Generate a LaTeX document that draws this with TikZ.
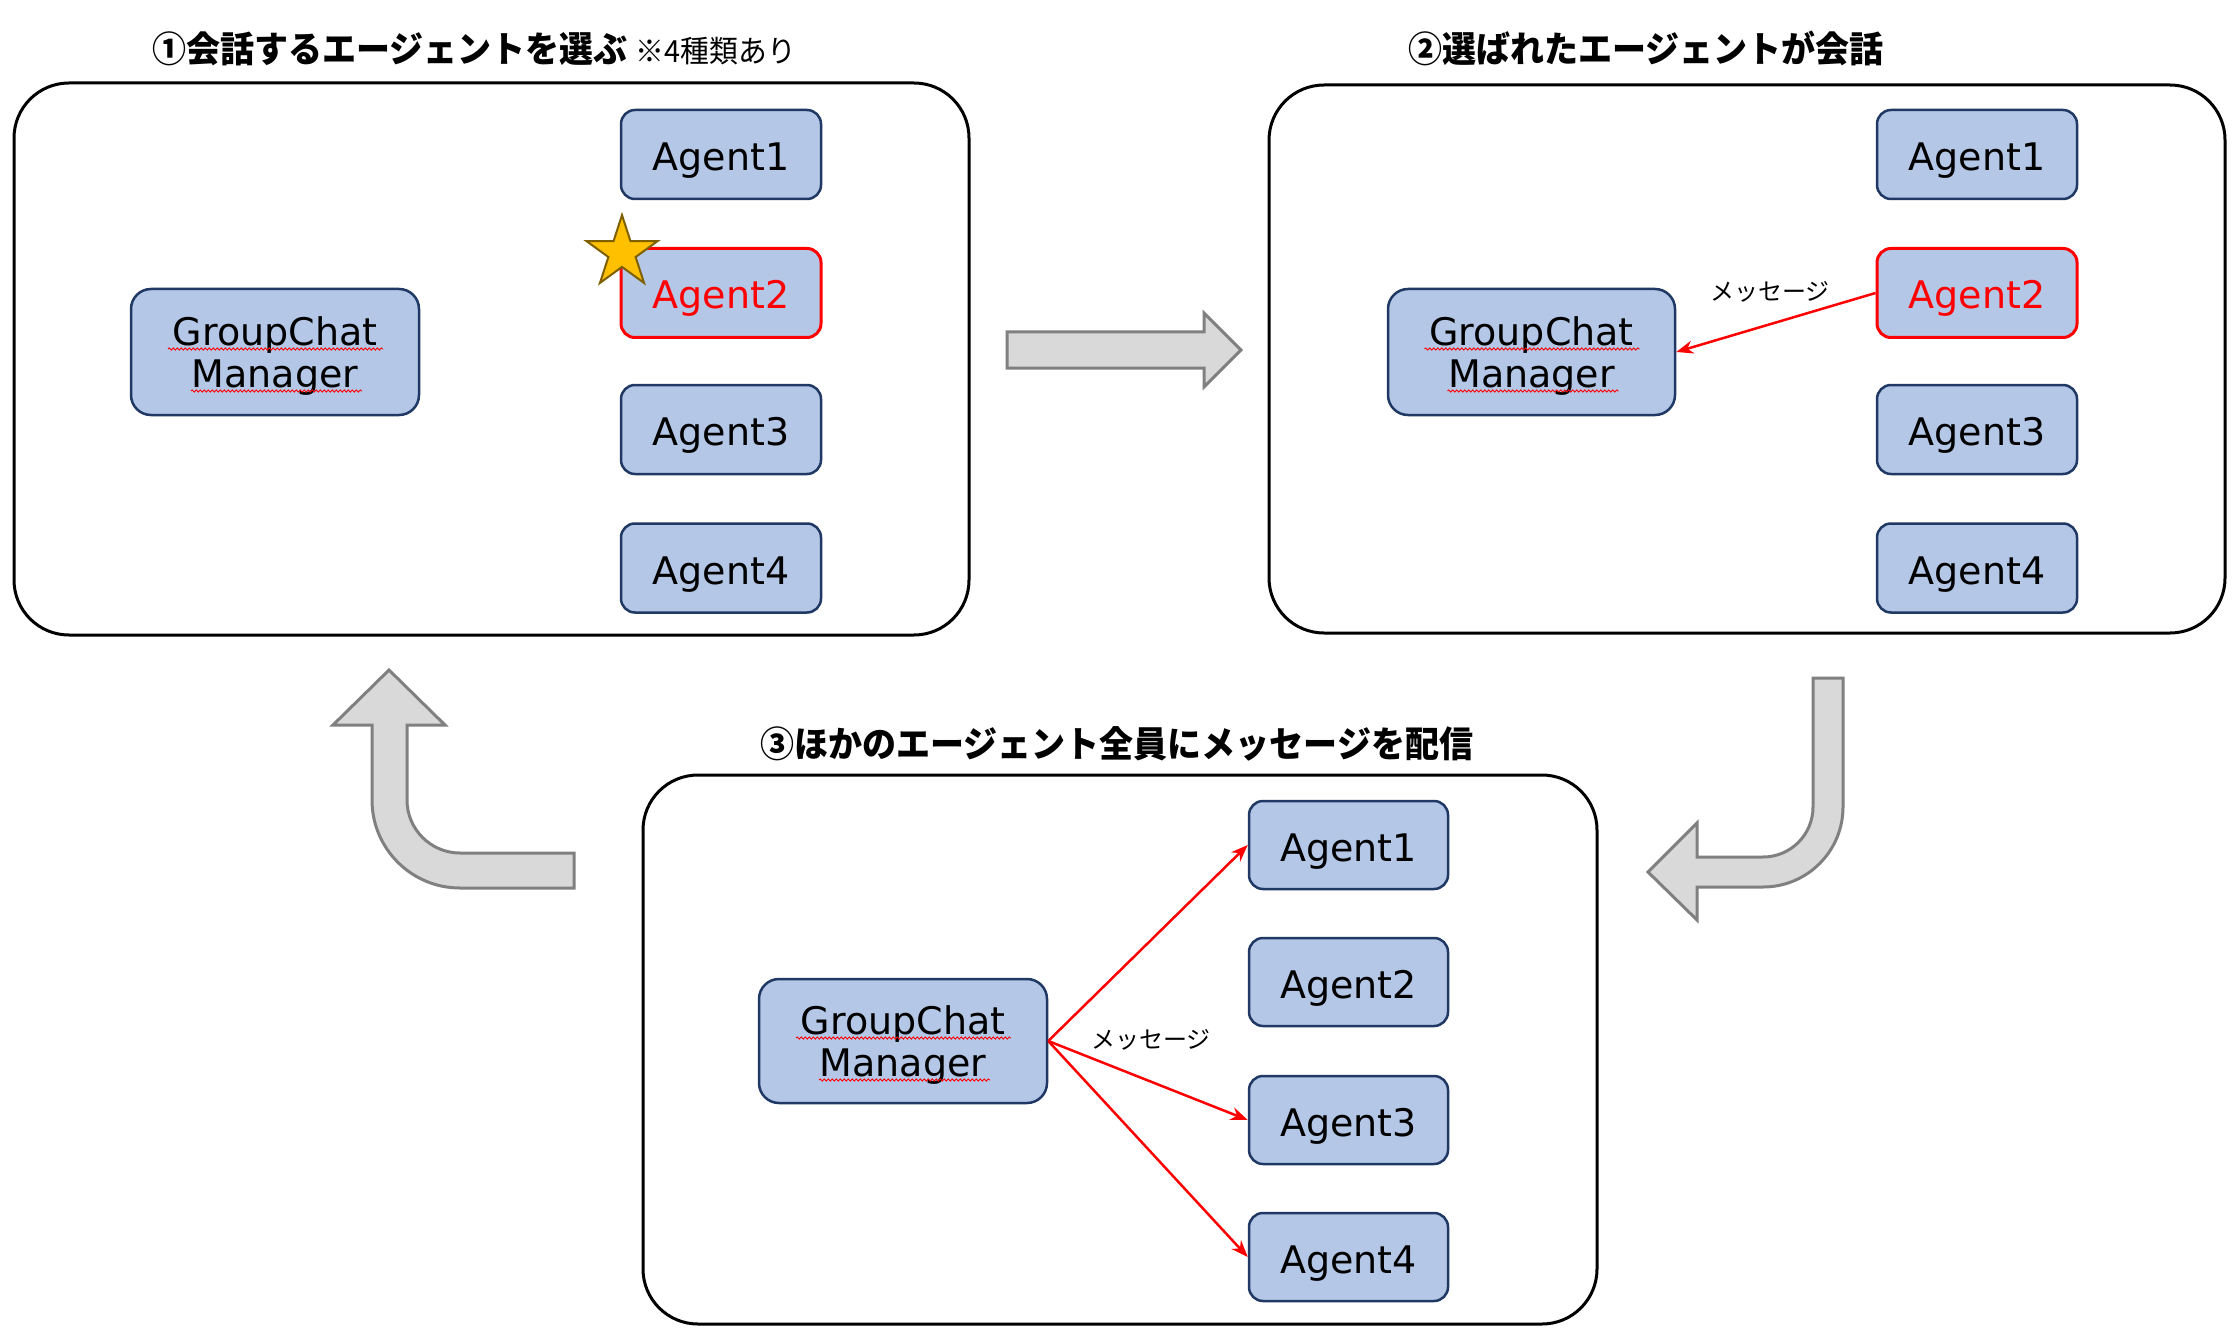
\documentclass[tikz,border=0pt]{standalone}
\usepackage{fontspec}
\setmainfont{DejaVu Sans}
\newfontfamily\jp{Noto Sans CJK JP}
\newfontfamily\jpt{Noto Sans CJK JP}[FakeStretch=0.945]
\usetikzlibrary{arrows.meta,shapes.geometric,decorations.pathmorphing,calc}
\definecolor{boxfill}{HTML}{B4C7E7}
\definecolor{boxline}{HTML}{1F3864}
\definecolor{arrfill}{HTML}{D9D9D9}
\definecolor{arrline}{HTML}{808080}
\definecolor{starfill}{HTML}{FFC000}
\definecolor{starline}{HTML}{7F6000}
\tikzset{
  panel/.style={draw=black, line width=3pt, rounded corners=55pt, fill=white},
  agentbox/.style={draw=boxline, fill=boxfill, line width=2.5pt, rounded corners=14pt,
    minimum width=200pt, minimum height=89pt, inner sep=0pt,
    text height=40pt, text depth=8pt,
    font=\fontsize{38}{41}\selectfont},
  selbox/.style={agentbox, draw=red, line width=3pt, text=red},
  gcmbox/.style={draw=boxline, fill=boxfill, line width=2.5pt, rounded corners=20pt,
    minimum width=288pt, minimum height=126pt, inner sep=0pt, align=center,
    font=\fontsize{38}{42}\selectfont},
  titletext/.style={font=\jpt\bfseries\fontsize{36}{40}\selectfont, inner sep=0pt, anchor=base west},
  msgtext/.style={font=\jp\fontsize{24}{26}\selectfont, inner sep=0pt},
  msgarrow/.style={draw=red, line width=2.5pt, -{Stealth[length=17pt,width=13pt]}},
  blockarrow/.style={fill=arrfill, draw=arrline, line width=3pt, line join=miter},
  squig/.style={draw=red, line width=0.9pt, decorate, decoration={snake, amplitude=1.1pt, segment length=4pt}},
}
\newcommand{\gcmtext}{\raisebox{-6pt}[\height][\depth]{\begin{tabular}{@{}c@{}}GroupChat\\Manager\end{tabular}}}
\newcommand{\gcmsquig}[1]{%
  \path[squig] ($(#1)+(-107,-3)$) -- ($(#1)+(108,-3)$);
  \path[squig] ($(#1)+(-84,39)$) -- ($(#1)+(87,39)$);
}
\begin{document}
\begin{tikzpicture}[x=1pt,y=-1pt]
\useasboundingbox (0,0) rectangle (2234,1329);

% titles
\node[titletext] (t1) at (152,63) {①会話するエージェントを選ぶ\hspace{8pt}{\mdseries\fontsize{30.5}{32}\selectfont ※4種類あり}};
\node[titletext] (t2) at (1408,63) {②選ばれたエージェントが会話};
\node[titletext] (t3) at (760,757) {③ほかのエージェント全員にメッセージを配信};

% panels
\node[panel, minimum width=955pt, minimum height=552pt] (p1) at (491.5,359) {};
\node[panel, minimum width=956pt, minimum height=548pt] (p2) at (1747,359) {};
\node[panel, minimum width=954pt, minimum height=549pt] (p3) at (1120,1049.5) {};

% panel 1
\node[gcmbox] (g1) at (275,352) {\gcmtext};
\node[agentbox] (a11) at (721,154.5) {Agent1};
\node[selbox]   (a12) at (721,293) {Agent2};
\node[agentbox] (a13) at (721,429.5) {Agent3};
\node[agentbox] (a14) at (721,568) {Agent4};
\node[star, star points=5, star point ratio=2.618, minimum size=75pt, inner sep=0pt,
      fill=starfill, draw=starline, line width=2pt] (star) at (622,252.6) {};

% panel 2
\node[gcmbox, minimum width=287pt] (g2) at (1531.5,352) {\gcmtext};
\node[agentbox] (a21) at (1977,154.5) {Agent1};
\node[selbox]   (a22) at (1977,293) {Agent2};
\node[agentbox] (a23) at (1977,429.5) {Agent3};
\node[agentbox] (a24) at (1977,568) {Agent4};
\draw[msgarrow] (a22.west) -- (g2.east);
\node[msgtext] (m2) at (1770,292) {メッセージ};

% panel 3
\node[gcmbox, minimum height=124pt] (g3) at (903,1041) {\gcmtext};
\node[agentbox, minimum width=199pt, minimum height=88pt] (a31) at (1348.5,845) {Agent1};
\node[agentbox, minimum width=199pt, minimum height=88pt] (a32) at (1348.5,982) {Agent2};
\node[agentbox, minimum width=199pt, minimum height=88pt] (a33) at (1348.5,1120) {Agent3};
\node[agentbox, minimum width=199pt, minimum height=88pt] (a34) at (1348.5,1257) {Agent4};
\draw[msgarrow] (g3.east) -- (a31.west);
\draw[msgarrow] (g3.east) -- (a33.west);
\draw[msgarrow] (g3.east) -- (a34.west);
\node[msgtext] (m3) at (1151,1040) {メッセージ};

% spell-check squiggles
\gcmsquig{g1}
\gcmsquig{g2}
\gcmsquig{g3}

% block arrows
\draw[blockarrow] (1007,332) -- (1204,332) -- (1204,313) -- (1241,350) -- (1204,387) -- (1204,368) -- (1007,368) -- cycle;
\draw[blockarrow] (1813,678) -- (1843,678) -- (1843,807) arc[start angle=0,end angle=90,radius=80]
  -- (1697,887) -- (1697,920) -- (1648,872) -- (1697,823) -- (1697,857) -- (1763,857)
  arc[start angle=90,end angle=0,radius=50] -- cycle;
\draw[blockarrow] (574,853) -- (460,853) arc[start angle=90,end angle=180,radius=53]
  -- (407,725) -- (445,725) -- (389,670) -- (333,725) -- (372,725) -- (372,800)
  arc[start angle=180,end angle=90,radius=88] -- (574,888) -- cycle;
\end{tikzpicture}
\end{document}
